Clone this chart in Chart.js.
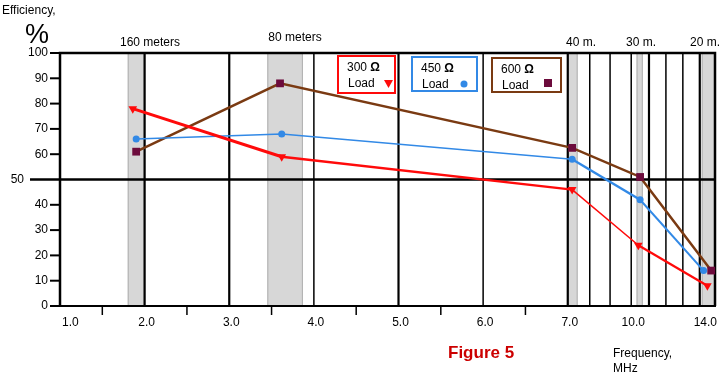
<!DOCTYPE html>
<html>
<head>
<meta charset="utf-8">
<script src="https://cdn.jsdelivr.net/npm/chart.js@4.4.1/dist/chart.umd.min.js"></script>
<style>
  body { margin: 0; background: #fff; }
  #wrap { width: 724px; height: 375px; position: relative; }
</style>
</head>
<body>
<div id="wrap"><canvas id="c"></canvas></div>
<script>
// measured efficiency (%) per band, one array per load
const bands = ['160 meters', '80 meters', '40 m.', '30 m.', '20 m.'];
const freq300 = [1.86, 3.62, 7.2, 10.4, 14.2];
const freq450 = [1.9, 3.62, 7.2, 10.5, 14.1];
const freq600 = [1.9, 3.6, 7.2, 10.5, 14.3];
const eff300 = [78, 59, 46, 24, 8];
const eff450 = [66, 68, 58, 42, 14];
const eff600 = [61, 88, 62.5, 51, 14];

const xTicks = [1, 2, 3, 4, 5, 6, 7, 10, 14];
const xTickLabels = ['1.0', '2.0', '3.0', '4.0', '5.0', '6.0', '7.0', '10.0', '14.0'];
const yTicks = [0, 10, 20, 30, 40, 50, 60, 70, 80, 90, 100];
// shaded amateur bands (MHz)
const bandRanges = [[1.8, 2.0], [3.45, 3.87], [7.0, 7.45], [10.3, 10.65], [14.05, 14.4]];

// the original frequency axis is linear up to 7 MHz, compressed above
const axisFreq = [1, 2, 3, 4, 5, 6, 7, 8, 9, 10, 11, 12, 13, 14, 14.4];
const axisPos = [0, 1, 2, 3, 4, 5, 6, 6.26, 6.5, 6.75, 6.96, 7.16, 7.36, 7.56, 7.74];

function pos(f) {
  for (let i = 1; i < axisFreq.length; i++) {
    if (f <= axisFreq[i]) {
      const t = (f - axisFreq[i - 1]) / (axisFreq[i] - axisFreq[i - 1]);
      return axisPos[i - 1] + t * (axisPos[i] - axisPos[i - 1]);
    }
  }
  return axisPos[axisPos.length - 1];
}

const pts = (fs, vs) => fs.map((f, i) => ({ x: pos(f), y: vs[i] }));

const FONT = '"Liberation Sans", Arial, sans-serif';
const RED = '#ff0a0a', BLUE = '#3289e6', BROWN = '#7a3a12', MAROON = '#6c0b3c';

const decor = {
  id: 'decor',
  beforeDatasetsDraw(chart) {
    const { ctx, chartArea: a, scales: { x, y } } = chart;
    ctx.save();
    // bands
    for (const [f0, f1] of bandRanges) {
      const x0 = x.getPixelForValue(pos(f0)), x1 = x.getPixelForValue(pos(f1));
      ctx.fillStyle = '#d7d7d7';
      ctx.fillRect(x0, a.top, x1 - x0, a.bottom - a.top);
      ctx.strokeStyle = '#aeaeae';
      ctx.lineWidth = 1;
      ctx.strokeRect(x0 + 0.5, a.top, x1 - x0 - 1, a.bottom - a.top);
    }
    // vertical grid
    ctx.strokeStyle = '#000';
    for (let f = 2; f <= 14; f++) {
      const px = x.getPixelForValue(pos(f));
      ctx.lineWidth = [2, 3, 5, 7, 11, 14].includes(f) ? 2.2 : 1.5;
      ctx.beginPath(); ctx.moveTo(px, a.top); ctx.lineTo(px, a.bottom); ctx.stroke();
    }
    // frame
    ctx.lineWidth = 2.5;
    ctx.beginPath();
    ctx.moveTo(a.left, a.bottom); ctx.lineTo(a.left, a.top); ctx.lineTo(a.right, a.top); ctx.lineTo(a.right, a.bottom);
    ctx.stroke();
    ctx.lineWidth = 2;
    ctx.beginPath(); ctx.moveTo(a.left, a.bottom); ctx.lineTo(a.right + 1, a.bottom); ctx.stroke();
    // 50 % line
    const y50 = y.getPixelForValue(50);
    ctx.lineWidth = 2.5;
    ctx.beginPath(); ctx.moveTo(30, y50); ctx.lineTo(a.right + 1, y50); ctx.stroke();

    // y ticks + labels
    ctx.font = '12px ' + FONT;
    ctx.fillStyle = '#000';
    ctx.textBaseline = 'middle';
    ctx.lineWidth = 2;
    for (const v of yTicks) {
      const py = y.getPixelForValue(v);
      if (v === 50) {
        ctx.textAlign = 'right';
        ctx.fillText('50', 24, py);
        continue;
      }
      ctx.beginPath(); ctx.moveTo(50, py); ctx.lineTo(a.left, py); ctx.stroke();
      ctx.textAlign = 'right';
      ctx.fillText(String(v), 48, py);
    }
    // x minor ticks
    ctx.lineWidth = 1.5;
    for (let f = 1.5; f < 7; f += 1) {
      const px = x.getPixelForValue(pos(f));
      ctx.beginPath(); ctx.moveTo(px, a.bottom); ctx.lineTo(px, a.bottom + 9); ctx.stroke();
    }
    // x labels
    ctx.textBaseline = 'alphabetic';
    xTicks.forEach((f, i) => {
      const px = x.getPixelForValue(pos(f));
      if (i === 0) { ctx.textAlign = 'left'; ctx.fillText(xTickLabels[i], px + 2, 326); }
      else if (i === xTicks.length - 1) { ctx.textAlign = 'right'; ctx.fillText(xTickLabels[i], a.right + 2, 326); }
      else { ctx.textAlign = 'center'; ctx.fillText(xTickLabels[i], px + 2, 326); }
    });
    ctx.restore();
  },
  afterDatasetsDraw(chart) {
    const { ctx } = chart;
    ctx.save();
    ctx.fillStyle = '#000';
    ctx.font = '12px ' + FONT;
    ctx.textBaseline = 'alphabetic';
    ctx.textAlign = 'left';
    ctx.fillText('Efficiency,', 2, 14);
    ctx.font = '27px ' + FONT;
    ctx.textAlign = 'center';
    ctx.fillText('%', 37, 43);

    // band names above the plot
    ctx.font = '12px ' + FONT;
    const bandX = [150, 295, 581, 641, 705];
    const bandY = [46, 41, 46, 46, 46];
    bands.forEach((b, i) => ctx.fillText(b, bandX[i], bandY[i]));

    // legend boxes
    const boxes = [
      { x: 338, y: 56, w: 57, h: 37, c: RED, label: '300', mk: 'tri' },
      { x: 412, y: 57, w: 65, h: 34, c: BLUE, label: '450', mk: 'dot' },
      { x: 492, y: 58, w: 69, h: 34, c: BROWN, label: '600', mk: 'sq' }
    ];
    for (const b of boxes) {
      ctx.fillStyle = '#fff';
      ctx.fillRect(b.x, b.y, b.w, b.h);
      ctx.strokeStyle = b.c;
      ctx.lineWidth = 2;
      ctx.strokeRect(b.x, b.y, b.w, b.h);
      ctx.fillStyle = '#000';
      ctx.textAlign = 'left';
      ctx.font = '12px ' + FONT;
      const tx = b.x + 9;
      ctx.fillText(b.label, tx, b.y + 15);
      const w = ctx.measureText(b.label + ' ').width;
      ctx.font = 'bold 12px ' + FONT;
      ctx.fillText('Ω', tx + w, b.y + 15);
      ctx.font = '12px ' + FONT;
      ctx.fillText('Load', tx + 1, b.y + 31);
    }
    // legend markers
    ctx.fillStyle = RED;
    ctx.beginPath(); ctx.moveTo(384, 80); ctx.lineTo(393, 80); ctx.lineTo(388.5, 88); ctx.closePath(); ctx.fill();
    ctx.fillStyle = BLUE;
    ctx.beginPath(); ctx.arc(464, 84, 3.5, 0, Math.PI * 2); ctx.fill();
    ctx.fillStyle = MAROON;
    ctx.fillRect(544, 79, 8, 8);

    // footer
    ctx.fillStyle = '#cc0000';
    ctx.font = 'bold 17px ' + FONT;
    ctx.textAlign = 'left';
    ctx.fillText('Figure 5', 448, 358);
    ctx.fillStyle = '#000';
    ctx.font = '12px ' + FONT;
    ctx.fillText('Frequency,', 613, 357);
    ctx.fillText('MHz', 613, 372);
    ctx.restore();
  }
};

new Chart(document.getElementById('c'), {
  type: 'line',
  data: {
    datasets: [
      {
        label: '300 Ω Load',
        data: pts(freq300, eff300),
        borderColor: RED,
        backgroundColor: RED,
        borderWidth: 2,
        segment: { borderWidth: c => [3, 2.5, 1.5, 2.2][c.p0DataIndex] },
        pointStyle: 'triangle',
        rotation: 180,
        pointRadius: 5,
        pointBorderWidth: 0,
      },
      {
        label: '450 Ω Load',
        data: pts(freq450, eff450),
        borderColor: BLUE,
        backgroundColor: BLUE,
        borderWidth: 1.5,
        segment: { borderWidth: c => [1.5, 1.5, 2.5, 2][c.p0DataIndex] },
        pointStyle: 'circle',
        pointRadius: 3.5,
        pointBorderWidth: 0,
      },
      {
        label: '600 Ω Load',
        data: pts(freq600, eff600),
        borderColor: BROWN,
        backgroundColor: MAROON,
        borderWidth: 2.5,
        pointStyle: 'rect',
        pointRadius: 5.5,
        pointBorderWidth: 0,
      },
    ],
  },
  options: {
    responsive: true,
    maintainAspectRatio: false,
    animation: false,
    layout: { padding: { left: 60, top: 53, right: 9, bottom: 69 } },
    plugins: { legend: { display: false }, tooltip: { enabled: false } },
    elements: { line: { tension: 0 } },
    datasets: { line: { clip: false } },
    scales: {
      x: { type: 'linear', min: 0, max: pos(14.4), display: false },
      y: { min: 0, max: 100, display: false },
    },
  },
  plugins: [decor],
});
</script>
</body>
</html>
